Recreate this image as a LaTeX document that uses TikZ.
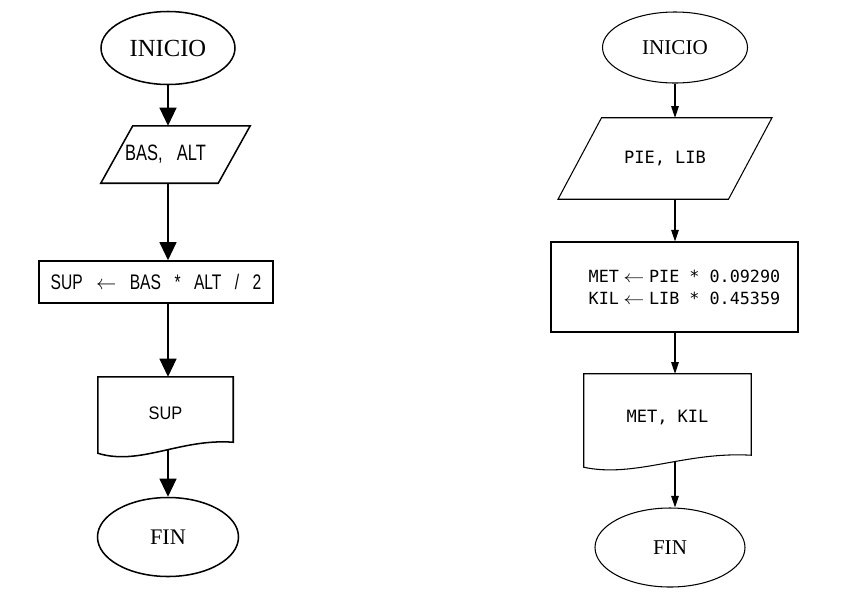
\documentclass[tikz,border=0pt]{standalone}
\usepackage{fontspec}
\setmainfont{Liberation Serif}
\newfontfamily\sansbox[FakeStretch=0.74,WordSpace=3.1]{Liberation Sans}
\newfontfamily\sansdoc[FakeStretch=0.9]{Liberation Sans}
\newfontfamily\monobox{DejaVu Sans Mono}
\newcommand{\flecha}{\makebox[1.8em]{\scalebox{1.25}[1]{$\leftarrow$}}}
\usetikzlibrary{shapes.geometric,arrows.meta,calc}

\begin{document}
\begin{tikzpicture}[x=0.03cm, y=-0.03cm,
  lineaA/.style={line width=1.3pt},
  lineaB/.style={line width=0.9pt},
  flechaA/.style={lineaA, -{Triangle[width=14.5pt,length=15.5pt]}},
  flechaB/.style={lineaB, -{Triangle[width=6.5pt,length=10pt]}},
  terminal/.style={ellipse, draw, inner sep=0pt},
  entrada/.style={rectangle, inner sep=0pt},
  proceso/.style={rectangle, draw, inner sep=0pt},
  documento/.style={rectangle, inner sep=0pt}]
\useasboundingbox (0,0) rectangle (846,604);

% superficie del triangulo
\def\sesgoA{16}
\node[terminal, lineaA, minimum width=4.02cm, minimum height=2.19cm, font=\fontsize{21}{24}\selectfont] (inicioA) at (168,48) {INICIO};
\node[entrada, minimum width=3.51cm, minimum height=1.71cm, font=\sansbox\fontsize{19}{22}\selectfont] (entA) at (175.5,154.5) {BAS, ALT\hspace*{17pt}};
\draw[lineaA] ($(entA.south west)+(-\sesgoA,0)$) -- ($(entA.north west)+(\sesgoA,0)$)
  -- ($(entA.north east)+(\sesgoA,0)$) -- ($(entA.south east)+(-\sesgoA,0)$) -- cycle;
\node[proceso, lineaA, minimum width=7.02cm, minimum height=1.26cm, font=\sansbox\fontsize{18}{21}\selectfont] (procA) at (156,282) {SUP $\leftarrow$ BAS * ALT / 2};
\node[documento, minimum width=4.05cm, minimum height=2.16cm, font=\sansdoc\fontsize{15.5}{18}\selectfont] (salA) at (165.5,413) {SUP};
\draw[lineaA] (salA.north west) -- (salA.north east) -- ($(salA.south east)+(0,-7)$)
  .. controls ($(salA.south east)+(-53,-11)$) and ($(salA.south west)+(42,17)$) .. ($(salA.south west)+(0,4)$) -- cycle;
\node[terminal, lineaA, minimum width=4.23cm, minimum height=2.37cm, font=\fontsize{19}{22}\selectfont] (finA) at (168,537) {FIN};

\foreach \a/\b in {inicioA/entA, entA/procA, procA/salA, salA/finA}
  \draw[flechaA] (inicioA |- \a.south) -- (inicioA |- \b.north);

% conversion de unidades
\def\sesgoB{21.75}
\node[terminal, lineaB, minimum width=4.35cm, minimum height=2.13cm, font=\fontsize{18}{21}\selectfont] (inicioB) at (675,47.5) {INICIO};
\node[entrada, minimum width=5.1cm, minimum height=2.43cm, font=\monobox\fontsize{14.5}{18}\selectfont] (entB) at (665,158.5) {PIE, LIB};
\draw[lineaB] ($(entB.south west)+(-\sesgoB,0)$) -- ($(entB.north west)+(\sesgoB,0)$)
  -- ($(entB.north east)+(\sesgoB,0)$) -- ($(entB.south east)+(-\sesgoB,0)$) -- cycle;
\node[proceso, lineaB, minimum width=7.41cm, minimum height=2.7cm, align=left, font=\monobox\fontsize{14.3}{18.8}\selectfont] (procB) at (674.5,287) {\hspace*{17pt}MET\flecha PIE * 0.09290\\\hspace*{17pt}KIL\flecha LIB * 0.45359};
\node[documento, minimum width=5.01cm, minimum height=2.61cm, font=\monobox\fontsize{14.5}{18}\selectfont] (salB) at (667.5,417.5) {MET, KIL};
\draw[lineaB] (salB.north west) -- (salB.north east) -- ($(salB.south east)+(0,-6)$)
  .. controls ($(salB.south east)+(-66,-10)$) and ($(salB.south west)+(51,17)$) .. ($(salB.south west)+(0,6)$) -- cycle;
\node[terminal, lineaB, minimum width=4.5cm, minimum height=2.37cm, font=\fontsize{18}{21}\selectfont] (finB) at (670,547.5) {FIN};

\foreach \a/\b in {inicioB/entB, entB/procB, procB/salB, salB/finB}
  \draw[flechaB] (inicioB |- \a.south) -- (inicioB |- \b.north);
\end{tikzpicture}
\end{document}
